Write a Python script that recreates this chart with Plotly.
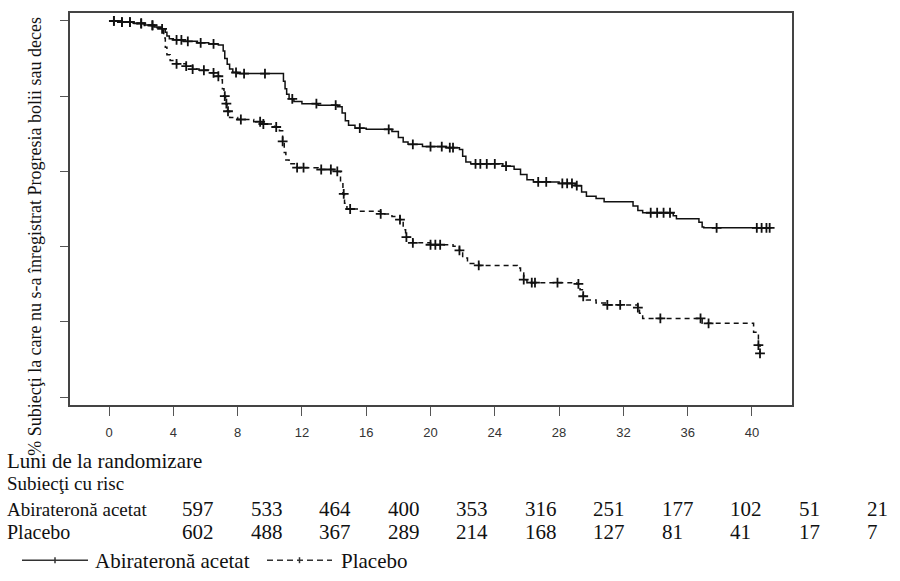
import plotly.graph_objects as go
import numpy as np

# ---------------- data ----------------
abi_t = [0, 0.8, 1.5, 2.2, 2.8, 3.3, 3.5, 3.6, 3.75, 4.0, 4.6, 5.5, 6.2, 6.8,
         7.1, 7.2, 7.35, 7.5, 7.7, 8.0, 10.85, 10.95, 11.05, 11.2, 11.5, 12.0,
         13.0, 14.2, 14.5, 14.7, 14.9, 15.3, 16.0, 17.6, 18.0, 18.3, 18.6, 19.5,
         21.0, 21.8, 22.0, 22.2, 22.5, 24.5, 25.2, 25.6, 26.0, 26.4, 28.0, 29.0,
         29.4, 29.7, 30.3, 30.8, 32.6, 32.9, 33.2, 35.1, 35.3, 36.7, 36.9, 37.0]
abi_s = [100, 99.7, 99.4, 98.9, 98.4, 97.9, 97.0, 96.0, 95.3, 95.0, 94.6, 94.2,
         93.9, 93.6, 92.0, 90.0, 88.5, 87.2, 86.3, 86.0, 84.0, 82.0, 80.5, 79.3,
         78.6, 78.0, 77.6, 77.2, 75.5, 73.5, 72.3, 71.5, 71.2, 70.6, 69.0, 67.8,
         67.2, 66.6, 66.3, 65.8, 64.0, 62.5, 62.0, 61.4, 60.6, 59.2, 57.8, 57.2,
         56.8, 56.2, 54.5, 53.4, 52.8, 51.9, 50.8, 49.6, 49.0, 48.2, 47.4, 46.5,
         45.2, 45.0]
abi_end = 41.1
abi_cens = [0.3, 0.8, 1.3, 2.0, 2.7, 3.3, 4.2, 4.5, 4.9, 5.7, 6.5, 7.9, 8.4,
            9.7, 11.4, 12.9, 14.1, 15.6, 17.4, 18.9, 20.0, 20.7, 21.2, 21.4,
            22.8, 23.1, 23.5, 24.0, 24.7, 26.7, 27.2, 28.2, 28.5, 28.8, 29.1,
            33.7, 34.1, 34.5, 34.9, 37.8, 40.3, 40.6, 40.9, 41.1]

pla_t = [0, 0.8, 1.5, 2.2, 2.8, 3.2, 3.4, 3.5, 3.6, 3.8, 4.2, 4.8, 5.2, 5.6,
         6.2, 6.6, 6.9, 7.05, 7.15, 7.25, 7.35, 7.5, 8.0, 9.0, 9.6, 10.3, 10.6,
         10.8, 10.9, 11.0, 11.2, 11.7, 13.0, 14.2, 14.4, 14.55, 14.65, 14.8,
         15.5, 16.9, 17.6, 18.1, 18.3, 18.45, 18.9, 20.0, 21.4, 21.8, 22.0,
         22.3, 23.0, 25.4, 25.6, 25.8, 26.0, 29.1, 29.3, 29.5, 29.7, 30.3, 31.0,
         32.9, 33.0, 33.2, 36.9, 40.1, 40.4, 40.5]
pla_s = [100, 99.7, 99.3, 98.8, 98.2, 97.5, 95.5, 93.0, 91.0, 89.5, 88.6, 88.0,
         87.2, 86.9, 86.2, 85.3, 84.4, 82.0, 80.0, 78.0, 76.0, 74.3, 73.8, 73.2,
         72.6, 71.8, 70.8, 68.0, 65.0, 63.0, 62.0, 61.0, 60.5, 60.0, 57.5, 54.0,
         51.5, 50.0, 49.4, 48.7, 48.0, 47.2, 44.5, 42.5, 41.0, 40.5, 40.1, 39.0,
         37.0, 35.5, 35.0, 34.3, 33.0, 31.2, 30.4, 30.1, 28.5, 26.8, 25.8, 25.0,
         24.5, 23.8, 22.3, 20.9, 19.6, 17.2, 13.8, 11.6]
pla_end = 40.5
pla_cens = [0.3, 0.8, 1.3, 2.0, 2.7, 4.2, 4.8, 5.2, 5.9, 6.5, 6.8, 7.2, 7.3,
            7.4, 8.2, 9.4, 9.6, 10.4, 10.8, 11.7, 12.1, 13.2, 13.8, 14.2, 14.6,
            15.0, 16.9, 18.1, 18.5, 18.9, 20.0, 20.3, 20.6, 21.8, 23.0, 25.8,
            26.3, 26.5, 27.9, 29.2, 29.5, 31.0, 31.8, 32.9, 34.3, 36.8, 37.3,
            40.4, 40.5]

risk_times = [0, 4, 8, 12, 16, 20, 24, 28, 32, 36, 40]
abi_risk = [597, 533, 464, 400, 353, 316, 251, 177, 102, 51, 21]
pla_risk = [602, 488, 367, 289, 214, 168, 127, 81, 41, 17, 7]

x_ticks = [0, 4, 8, 12, 16, 20, 24, 28, 32, 36, 40]
y_ticks = [0, 20, 40, 60, 80, 100]

name_abi = "Abirateronă acetat"
name_pla = "Placebo"
y_title = "% Subiecţi la care nu s-a înregistrat Progresia bolii sau deces"
x_title = "Luni de la randomizare"
risk_title = "Subiecţi cu risc"

# ---------------- helpers ----------------
def step_xy(t, s, end):
    return list(t) + [end], list(s) + [s[-1]]

def km_at(t, s, q):
    idx = np.searchsorted(np.array(t), np.array(q), side="right") - 1
    return [s[i] for i in idx]

W, H = 900, 581
L, R, T, B = 70, 108, 11, 176
PW, PH = W - L - R, H - T - B

def px(xp):
    return (xp - L) / PW

def py(yp):
    return (H - B - yp) / PH

serif = "Liberation Serif, Times New Roman, serif"
sans = "Liberation Sans, Arial, sans-serif"
INK = "#111"

fig = go.Figure()

mk = dict(symbol="cross-thin", size=7, line=dict(color=INK, width=1.8))

ax, ay = step_xy(abi_t, abi_s, abi_end)
fig.add_trace(go.Scatter(x=ax, y=ay, mode="lines", line=dict(color=INK, width=1.5, shape="hv"),
                         name=name_abi, showlegend=False, hoverinfo="skip"))
fig.add_trace(go.Scatter(x=abi_cens, y=km_at(abi_t, abi_s, abi_cens), mode="markers",
                         marker=mk, showlegend=False, hoverinfo="skip"))

bx, by = step_xy(pla_t, pla_s, pla_end)
fig.add_trace(go.Scatter(x=bx, y=by, mode="lines",
                         line=dict(color=INK, width=1.5, shape="hv", dash="5px,4px"),
                         name=name_pla, showlegend=False, hoverinfo="skip"))
fig.add_trace(go.Scatter(x=pla_cens, y=km_at(pla_t, pla_s, pla_cens), mode="markers",
                         marker=mk, showlegend=False, hoverinfo="skip"))

ann = []
ann.append(dict(text=y_title, textangle=-90, x=px(35), y=py(236), xref="paper", yref="paper",
                xanchor="center", yanchor="middle", showarrow=False,
                font=dict(family=serif, size=18, color=INK)))
for txt, yp, fs in [(x_title, 461, 21), (risk_title, 484, 19), (name_abi, 510, 19), (name_pla, 533, 20)]:
    ann.append(dict(text=txt, x=px(5), y=py(yp), xref="paper", yref="paper",
                    xanchor="left", yanchor="middle", showarrow=False,
                    font=dict(family=serif, size=fs, color=INK)))
col0, colstep = 180, 68.5
for k, (a, p) in enumerate(zip(abi_risk, pla_risk)):
    for val, yp in [(a, 510), (p, 533)]:
        ann.append(dict(text=str(val), x=px(col0 + colstep * k), y=py(yp), xref="paper", yref="paper",
                        xanchor="left", yanchor="middle", showarrow=False,
                        font=dict(family=serif, size=21, color=INK)))

# manual legend (below the risk table)
shapes = []
leg_y = 561
for (x0, x1, dash, label, tx) in [(22, 88, "solid", name_abi, 93), (267, 332, "6px,4px", name_pla, 339)]:
    shapes.append(dict(type="line", xref="paper", yref="paper", x0=px(x0), x1=px(x1),
                       y0=py(leg_y), y1=py(leg_y), line=dict(color="#333", width=1.5, dash=dash)))
    xm = (x0 + x1) / 2
    shapes.append(dict(type="line", xref="paper", yref="paper", x0=px(xm), x1=px(xm),
                       y0=py(leg_y - 3), y1=py(leg_y + 3), line=dict(color="#333", width=1.5)))
    ann.append(dict(text=label, x=px(tx), y=py(leg_y + 1), xref="paper", yref="paper",
                    xanchor="left", yanchor="middle", showarrow=False,
                    font=dict(family=serif, size=21, color=INK)))

fig.update_layout(
    width=W, height=H, margin=dict(l=L, r=R, t=T, b=B, pad=0),
    paper_bgcolor="white", plot_bgcolor="white",
    showlegend=False,
    annotations=ann, shapes=shapes,
    xaxis=dict(range=[-2.43, 42.49], tickvals=x_ticks, ticks="outside", ticklen=9, tickwidth=1.2,
               tickcolor="#555", showline=True, mirror=True, linecolor="#444", linewidth=1.5,
               showgrid=False, zeroline=False, ticklabelstandoff=6,
               tickfont=dict(family=sans, size=13, color="#333")),
    yaxis=dict(range=[-2.12, 102.12], tickvals=y_ticks, showticklabels=False, ticks="outside",
               ticklen=8, tickwidth=1.2, tickcolor="#555", showline=True, mirror=True,
               linecolor="#444", linewidth=1.5, showgrid=False, zeroline=False),
)

fig.write_html("out.html")
